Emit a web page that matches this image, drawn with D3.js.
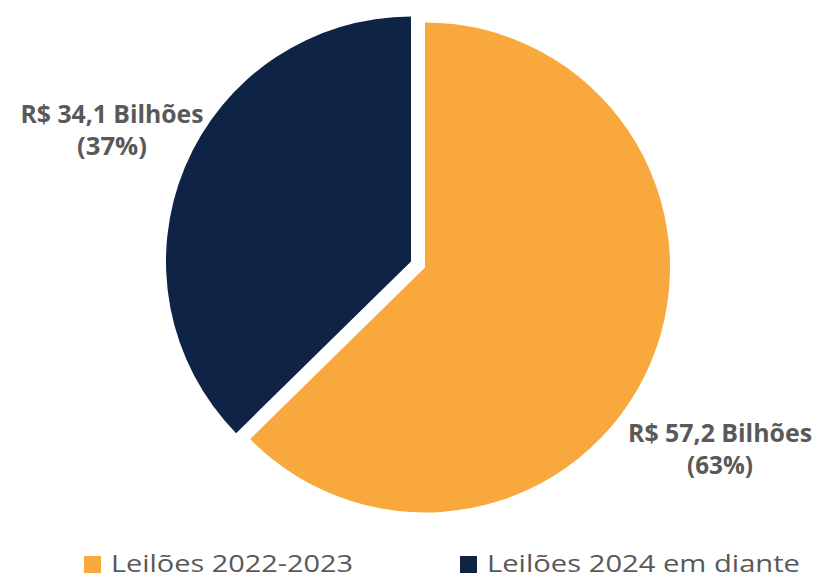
<!DOCTYPE html>
<html><head><meta charset="utf-8">
<script src="https://cdn.jsdelivr.net/npm/d3@7"></script>
<style>html,body{margin:0;padding:0;background:#fff;}svg{display:block;}</style>
</head><body>
<svg id="chart" width="818" height="579"></svg>
<script>
const categories = ["Leilões 2022-2023", "Leilões 2024 em diante"];
const values = [57.2, 34.1];
const valueLabels = ["R$ 57,2 Bilhões", "R$ 34,1 Bilhões"];
const pctLabels = ["(63%)", "(37%)"];
const colors = ["#F9A83D", "#0E2345"];

const svg = d3.select("#chart");
const cx = 418, cy = 264.5, r = 245, explode = 7.6;
const pie = d3.pie().sort(null).value(d => d)(values);
const arc = d3.arc().innerRadius(0).outerRadius(r);

svg.append("g").attr("transform", `translate(${cx},${cy})`)
  .selectAll("path").data(pie).join("path")
  .attr("d", arc)
  .attr("fill", (d, i) => colors[i])
  .attr("transform", d => {
    const a = (d.startAngle + d.endAngle) / 2;
    return `translate(${explode * Math.sin(a)},${-explode * Math.cos(a)})`;
  });

const textColor = "#595959";
const labelPos = [{x: 720, y1: 442, y2: 474, w1: 184, w2: 66}, {x: 112, y1: 123, y2: 155, w1: 183, w2: 70}];
labelPos.forEach((p, i) => {
  const g = svg.append("g").attr("font-family", "'Open Sans', sans-serif")
    .attr("font-weight", "bold").attr("font-size", 25).attr("fill", textColor)
    .attr("text-anchor", "middle");
  g.append("text").attr("x", p.x).attr("y", p.y1).text(valueLabels[i])
    .attr("textLength", p.w1).attr("lengthAdjust", "spacingAndGlyphs");
  g.append("text").attr("x", p.x).attr("y", p.y2).text(pctLabels[i])
    .attr("textLength", p.w2).attr("lengthAdjust", "spacingAndGlyphs");
});

const legend = [{sx: 84, tx: 111, tw: 242}, {sx: 460, tx: 487, tw: 313}];
legend.forEach((l, i) => {
  svg.append("rect").attr("x", l.sx).attr("y", 556).attr("width", 17).attr("height", 17).attr("fill", colors[i]);
  svg.append("text").attr("x", l.tx).attr("y", 572)
    .attr("font-family", "'Open Sans', sans-serif").attr("font-size", 24).attr("fill", textColor)
    .attr("textLength", l.tw).attr("lengthAdjust", "spacingAndGlyphs")
    .text(categories[i]);
});
</script>
</body></html>
